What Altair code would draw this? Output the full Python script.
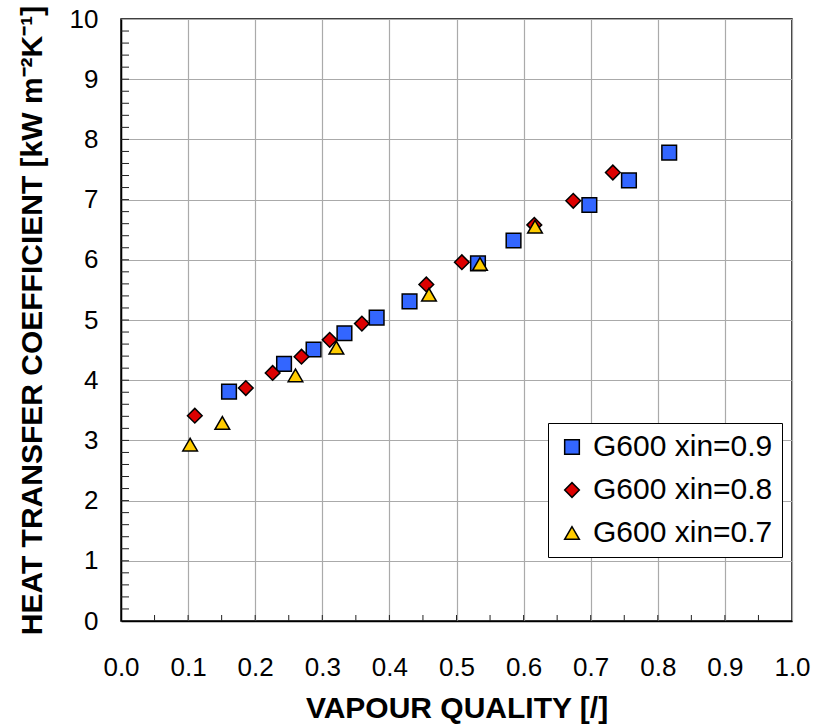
import altair as alt
import pandas as pd

# Data
series_names = ["G600 xin=0.9", "G600 xin=0.8", "G600 xin=0.7"]

blue_x = [0.161, 0.243, 0.287, 0.333, 0.381, 0.430, 0.532, 0.585, 0.698, 0.757, 0.817]
blue_y = [3.81, 4.27, 4.51, 4.78, 5.04, 5.31, 5.94, 6.32, 6.91, 7.32, 7.78]

red_x = [0.110, 0.186, 0.226, 0.269, 0.311, 0.359, 0.455, 0.508, 0.616, 0.674, 0.733]
red_y = [3.41, 3.87, 4.12, 4.39, 4.67, 4.94, 5.59, 5.96, 6.58, 6.98, 7.45]

yellow_x = [0.103, 0.151, 0.260, 0.321, 0.459, 0.535, 0.617]
yellow_y = [2.93, 3.29, 4.08, 4.54, 5.42, 5.93, 6.55]

x_tick_labels = [0.0, 0.1, 0.2, 0.3, 0.4, 0.5, 0.6, 0.7, 0.8, 0.9, 1.0]
y_tick_labels = [0, 1, 2, 3, 4, 5, 6, 7, 8, 9, 10]
x_minor = [round(i * 0.05, 2) for i in range(1, 20)]
y_minor = [round(i * 0.2, 1) for i in range(1, 50)]

fills = ["#3366FF", "#DD0000", "#FFCC00"]
shapes = ["square", "diamond", "triangle-up"]
strokes = ["black", "black", "black"]

rows = []
for name, xs, ys in zip(series_names, [blue_x, red_x, yellow_x], [blue_y, red_y, yellow_y]):
    for a, b in zip(xs, ys):
        rows.append({"x": a, "h": b, "series": name})
df = pd.DataFrame(rows)

W, H = 671, 602
FONT = "Liberation Sans"

xscale = alt.Scale(domain=[0, 1], nice=False)
yscale = alt.Scale(domain=[0, 10], nice=False)
xaxis = alt.Axis(values=x_tick_labels, format=".1f", title="VAPOUR QUALITY [/]",
                 labelPadding=33, titlePadding=13, labelFlush=False, labelOverlap=False)
yaxis = alt.Axis(values=y_tick_labels, format="d",
                 title="HEAT TRANSFER COEFFICIENT [kW m⁻²K⁻¹]",
                 labelPadding=23, titlePadding=22, labelFlush=False, labelOverlap=False)

leg = alt.Legend(title=None, symbolStrokeColor="black", symbolStrokeWidth=1.5)

points = alt.Chart(df).mark_point(
    filled=True, size=215, strokeWidth=1.5, opacity=1
).encode(
    x=alt.X("x:Q", scale=xscale, axis=xaxis),
    y=alt.Y("h:Q", scale=yscale, axis=yaxis),
    fill=alt.Fill("series:N", scale=alt.Scale(domain=series_names, range=fills), legend=leg),
    shape=alt.Shape("series:N", scale=alt.Scale(domain=series_names, range=shapes), legend=leg),
    stroke=alt.Stroke("series:N", scale=alt.Scale(domain=series_names, range=strokes), legend=leg),
)

xt = alt.Chart(pd.DataFrame({"x": x_minor})).mark_rule(color="#222222", strokeWidth=1).encode(
    x=alt.X("x:Q", scale=xscale, axis=xaxis),
    y=alt.value(H),
    y2=alt.value(H - 6),
)
yt = alt.Chart(pd.DataFrame({"h": y_minor})).mark_rule(color="#222222", strokeWidth=1).encode(
    y=alt.Y("h:Q", scale=yscale, axis=yaxis),
    x=alt.value(0),
    x2=alt.value(8),
)

chart = alt.layer(xt, yt, points).properties(
    width=W, height=H,
    autosize=alt.AutoSizeParams(type="none"),
    padding={"left": 121, "top": 19, "right": 815 - 121 - W, "bottom": 727 - 19 - H},
    background="white",
).configure_view(
    stroke="black", strokeWidth=1.5
).configure_axis(
    labelFont=FONT, labelFontSize=26, labelColor="black",
    titleFont=FONT, titleFontSize=30, titleFontWeight="bold", titleColor="black",
    grid=True, gridColor="#aaaaaa", gridWidth=1.2,
    domainColor="black", domainWidth=1.5,
    tickSize=0,
).configure_legend(
    orient="none", legendX=427, legendY=404,
    strokeColor="black", fillColor="white", padding=9,
    labelFont=FONT, labelFontSize=30, labelColor="black", labelOffset=6,
    symbolSize=215, symbolStrokeWidth=1.5,
    rowPadding=13, labelLimit=400,
)

chart.save("out.html", embed_options={"renderer": "svg", "actions": False})
